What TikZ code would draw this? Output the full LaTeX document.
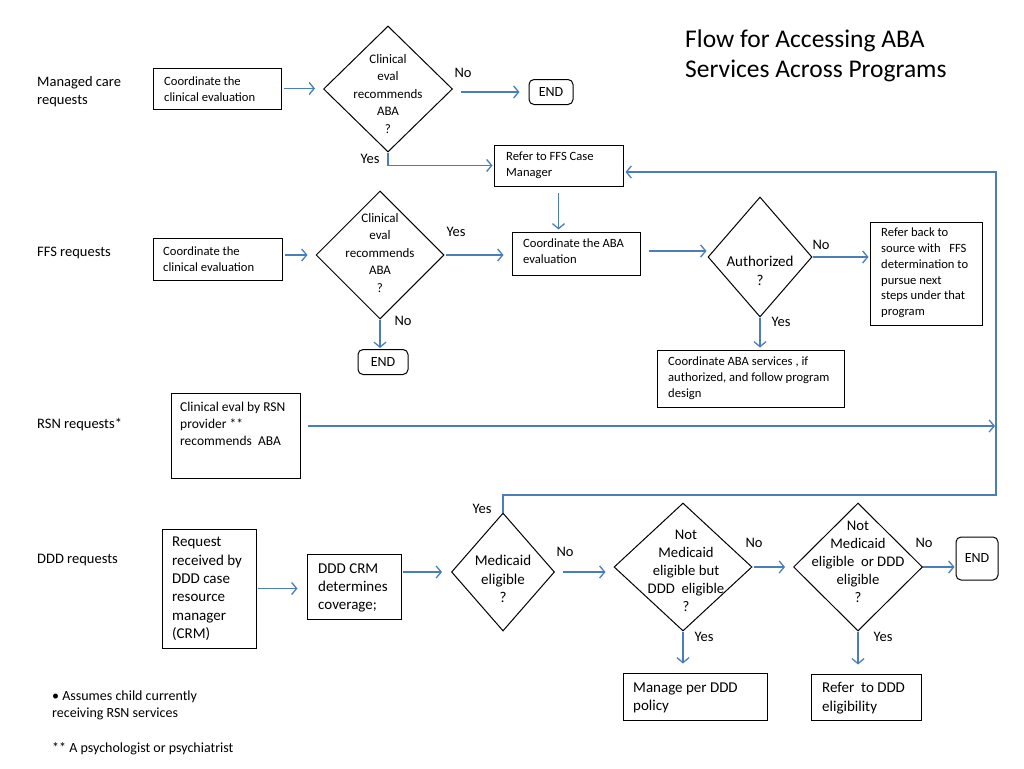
\documentclass[tikz,border=0pt]{standalone}
\usepackage{fontspec}
\setmainfont{Carlito}
\usetikzlibrary{shapes.geometric,arrows.meta,calc}
\definecolor{lblue}{RGB}{74,126,187}
\begin{document}
\begin{tikzpicture}[x=1pt,y=-1pt,
  tsmall/.style={font=\fontsize{12.6}{15.8}\selectfont},
  tdia/.style={font=\fontsize{13}{17.5}\selectfont},
  tbig/.style={font=\fontsize{15}{18.4}\selectfont},
  tmid/.style={font=\fontsize{14.7}{18}\selectfont},
  trsn/.style={font=\fontsize{13.5}{17}\selectfont},
  lab/.style={font=\fontsize{14.5}{17.5}\selectfont, inner sep=0pt},
  btxt/.style={inner sep=0pt, anchor=west, align=left},
  ctxt/.style={inner sep=0pt, align=center},
  box/.style={draw=black, line width=1pt, rectangle, inner sep=0pt},
  dia/.style={draw=black, line width=1pt, diamond, inner sep=0pt},
  endbox/.style={draw=black, line width=1pt, rectangle, rounded corners=5pt, inner sep=0pt, font=\fontsize{14}{17}\selectfont},
  arr/.style={draw=lblue, line width=1.3pt, -{Straight Barb[length=5pt,width=12pt]}}
]
\useasboundingbox[fill=white] (0,0) rectangle (1024,768);

% title
\node[inner sep=0pt, anchor=west, align=left, font=\fontsize{25.5}{30}\selectfont] (title) at (685,56) {Flow for Accessing ABA\\Services Across Programs};

% row labels
\node[lab, anchor=west, align=left] (lmc) at (37,91.5) {Managed care\\requests};
\node[lab, anchor=west] (lffs) at (37,253) {FFS requests};
\node[lab, anchor=west] (lrsn) at (37,425) {RSN requests*};
\node[lab, anchor=west] (lddd) at (37,560) {DDD requests};

% ---- row 1
\node[box, minimum width=128, minimum height=41] (b1) at (217,88.5) {};
\node[btxt, tsmall] (b1t) at (164,89) {Coordinate the\\clinical evaluation};
\node[dia, minimum width=129, minimum height=126] (d1) at (388,89) {};
\node[ctxt, tdia] (d1t) at (388,94) {Clinical\\eval\\recommends\\ABA\\?};
\node[endbox, minimum width=44, minimum height=25] (end1) at (551,92) {END};
\node[box, minimum width=129, minimum height=41] (refer) at (558.5,165.5) {};
\node[btxt, tsmall] (refert) at (506,165.5) {Refer to FFS Case\\Manager};
\node[lab] (no1) at (463,73) {No};
\node[lab] (yes1) at (370,159) {Yes};

% ---- row 2
\node[box, minimum width=129, minimum height=42] (b2) at (217.5,259) {};
\node[btxt, tsmall] (b2t) at (163,259) {Coordinate the\\clinical evaluation};
\node[dia, minimum width=128, minimum height=128] (d2) at (380,255) {};
\node[ctxt, tdia] (d2t) at (380,253) {Clinical\\eval\\recommends\\ABA\\?};
\node[endbox, minimum width=50, minimum height=25] (end2) at (383,362) {END};
\node[box, minimum width=128, minimum height=43] (caba) at (576,253.5) {};
\node[btxt, tsmall] (cabat) at (523,251) {Coordinate the ABA\\evaluation};
\node[dia, minimum width=104, minimum height=120] (auth) at (760,257) {};
\node[ctxt, tbig] (autht) at (760,271) {Authorized\\?};
\node[box, minimum width=112, minimum height=103] (rb) at (926,273.5) {};
\node[btxt, tsmall] (rbt) at (881,273) {Refer back to\\source with \ \ FFS\\determination to\\pursue next\\steps under that\\program};
\node[box, minimum width=187, minimum height=57] (csvc) at (750.5,378.5) {};
\node[btxt, tsmall] (csvct) at (668,378) {Coordinate ABA services , if\\authorized, and follow program\\design};
\node[lab] (yes2) at (456,232) {Yes};
\node[lab] (no2) at (403,321) {No};
\node[lab] (no3) at (821,245) {No};
\node[lab] (yes3) at (781,322) {Yes};

% ---- row 3
\node[box, minimum width=129, minimum height=85] (rsn) at (235.5,435.5) {};
\node[btxt, trsn] (rsnt) at (180,424) {Clinical eval by RSN\\provider **\\recommends \ ABA};

% ---- row 4
\node[box, minimum width=94, minimum height=119] (req) at (209,588.5) {};
\node[btxt, tbig] (reqt) at (172,589) {Request\\received by\\DDD case\\resource\\manager\\(CRM)};
\node[box, minimum width=94, minimum height=65] (crm) at (354,586.5) {};
\node[btxt, tbig] (crmt) at (318,588) {DDD CRM\\determines\\coverage;};
\node[dia, minimum width=103, minimum height=118] (med) at (503,572) {};
\node[ctxt, tbig] (medt) at (503,579) {Medicaid\\eligible\\?};
\node[dia, minimum width=138, minimum height=128] (d3) at (683,567) {};
\node[ctxt, tmid] (d3t) at (686,571) {Not\\Medicaid\\eligible but\\DDD \ eligible\\?};
\node[dia, minimum width=129, minimum height=128] (d4) at (858,567) {};
\node[ctxt, tmid] (d4t) at (858,562) {Not\\Medicaid\\eligible \ or DDD\\eligible\\?};
\node[endbox, minimum width=42, minimum height=43] (end3) at (977,558.5) {END};
\node[box, minimum width=144, minimum height=47] (man) at (695,696.5) {};
\node[btxt, tbig] (mant) at (633,698) {Manage per DDD\\policy};
\node[box, minimum width=110, minimum height=46] (rddd) at (866,697) {};
\node[btxt, tbig] (rdddt) at (822,698) {Refer \ to DDD\\eligibility};
\node[lab] (yes4) at (482,509) {Yes};
\node[lab] (no4) at (565,552) {No};
\node[lab] (no5) at (754,543) {No};
\node[lab] (yes5) at (704,637) {Yes};
\node[lab] (no6) at (924,543) {No};
\node[lab] (yes6) at (883,637) {Yes};

% footnotes
\node[btxt, font=\fontsize{14}{17.5}\selectfont] (fn1) at (52,705.5) {\textbullet\ Assumes child currently\\receiving RSN services};
\node[btxt, font=\fontsize{14}{17.5}\selectfont] (fn2) at (52,749) {** A psychologist or psychiatrist};

% coordinates for the feedback line
\coordinate (fbb) at (996,495);
\coordinate (fbt) at (996,172);
\coordinate (rsnend) at (995,426);

% ---- connectors
\draw[arr, shorten <=2pt, shorten >=8pt] (b1.east) -- (b1.east -| d1.west);
\draw[arr, shorten <=8pt, shorten >=9pt] (d1.east |- end1.west) -- (end1.west);
\draw[arr, shorten >=1pt] (d1.south) -- (d1.south |- refer.west) -- (refer.west);
\draw[arr, shorten <=6pt, shorten >=2pt] (refer.south) -- (refer.south |- caba.north);
\draw[arr, shorten <=2pt, shorten >=8pt] (d2.west -| b2.east) -- (d2.west);
\draw[arr, shorten <=1pt, shorten >=8pt] (d2.east) -- (d2.east -| caba.west);
\draw[arr, shorten >=1pt] (d2.south) -- (d2.south |- end2.north);
\draw[arr, shorten <=8pt, shorten >=1pt] (cabat.east -| caba.east) -- (cabat.east -| auth.west);
\draw[arr, shorten >=1pt] (auth.east) -- (auth.east -| rb.west);
\draw[arr, shorten >=2pt] (auth.south) -- (auth.south |- csvc.north);
\draw[arr, shorten <=7pt] (rsn.east |- rsnend) -- (rsnend);
\draw[arr, shorten <=1pt, shorten >=9pt] (req.east) -- (req.east -| crm.west);
\draw[arr, shorten <=1pt, shorten >=9pt] (crm.east |- med.west) -- (med.west);
\draw[arr, shorten <=8pt, shorten >=8pt] (med.east) -- (med.east -| d3.west);
\draw[arr, shorten <=1pt, shorten >=8pt] (d3.east) -- (d3.east -| d4.west);
\draw[arr, shorten >=1pt] (d4.east) -- (d4.east -| end3.west);
\draw[arr, shorten >=9pt] (d3.south) -- (d3.south |- man.north);
\draw[arr, shorten >=9pt] (d4.south) -- (d4.south |- rddd.north);
\draw[arr, shorten >=2pt] (med.north) -- (med.north |- fbb) -- (fbb) -- (fbt) -- (fbt -| refer.east);
\end{tikzpicture}
\end{document}
